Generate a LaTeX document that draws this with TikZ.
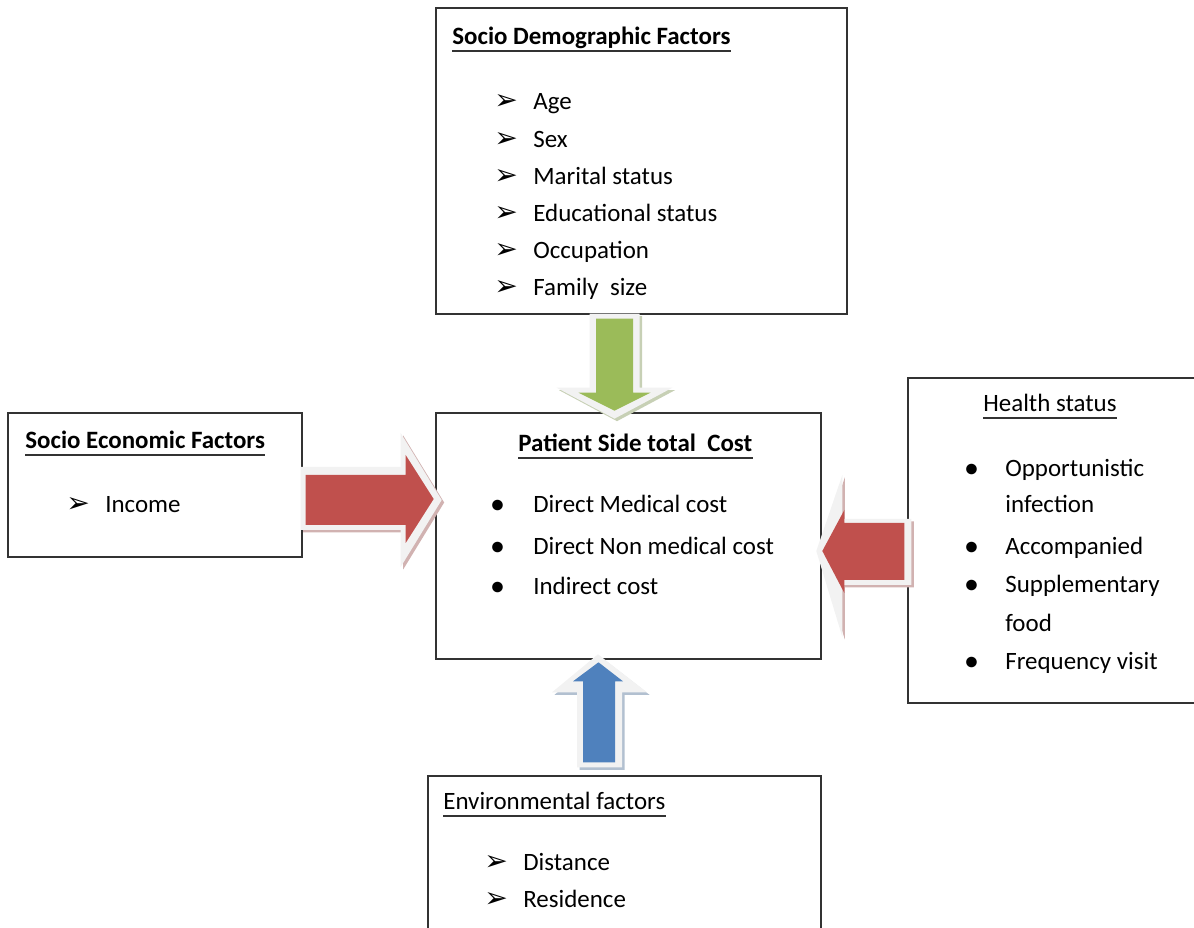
\documentclass[tikz,border=0pt]{standalone}
\usepackage{fontspec}
\setmainfont{Carlito}
\newfontfamily\dingfont{DejaVu Sans}
\usetikzlibrary{calc}

\definecolor{boxline}{HTML}{333333}
\definecolor{halocol}{HTML}{F2F2F2}
\definecolor{arrowred}{HTML}{C0504D}
\definecolor{arrowgreen}{HTML}{9BBB59}
\definecolor{arrowblue}{HTML}{4F81BD}

\begin{document}
\begin{tikzpicture}[x=0.02cm,y=-0.02cm,
  font=\fontsize{14.2}{17}\selectfont,
  box/.style={draw=boxline,line width=0.8pt,fill=white,inner sep=0},
  txt/.style={anchor=base west,inner sep=0},
  pointer/.style={anchor=base west,inner sep=0,font=\fontsize{16}{17}\dingfont\bfseries},
  rule/.style={draw=black!80,line width=1pt},
  halo/.style={fill=halocol,preaction={fill=#1!55!gray!50,
    transform canvas={xshift=0.05cm,yshift=-0.05cm}}}]
\useasboundingbox (0,0) rectangle (1194,928);

% boxes
\node[box,minimum width=8.22cm,minimum height=6.12cm] (demo) at (641.5,161) {};
\node[box,minimum width=5.88cm,minimum height=2.88cm] (econ) at (155,485) {};
\node[box,minimum width=7.70cm,minimum height=4.92cm] (cost) at (628.5,536) {};
\node[box,minimum width=5.84cm,minimum height=6.50cm] (health) at (1054,540.5) {};
\node[box,minimum width=7.86cm,minimum height=3.28cm] (env) at (624.5,858) {};

% block arrows into the cost box
\begin{scope}[shift={($(demo.south)+(-27,0)$)}]
  \fill[halo=arrowgreen] (-25,-1) -- (25,-1) -- (25,73) -- (58,73) -- (0,104) -- (-58,73) -- (-25,73) -- cycle;
  \fill[arrowgreen] (-18.5,4) -- (18.5,4) -- (18.5,78) -- (36,78) -- (0,96) -- (-36,78) -- (-18.5,78) -- cycle;
\end{scope}
\begin{scope}[shift={(econ.east)}]
  \fill[halo=arrowred] (-2,-18) -- (98,-18) -- (98,-52) -- (139,15) -- (98,82) -- (98,45) -- (-2,45) -- cycle;
  \fill[arrowred] (3,-10) -- (103,-10) -- (103,-30) -- (131,14) -- (103,58) -- (103,40) -- (3,40) -- cycle;
\end{scope}
\begin{scope}[shift={(health.west)}]
  \fill[halo=arrowred] (4,-21.5) -- (-65,-21.5) -- (-65,-65.5) -- (-91,10.5) -- (-65,96.5) -- (-65,44.5) -- (4,44.5) -- cycle;
  \fill[arrowred] (-3,-17.5) -- (-63,-17.5) -- (-63,-30.5) -- (-85,10.5) -- (-63,52.5) -- (-63,39.5) -- (-3,39.5) -- cycle;
\end{scope}
\begin{scope}[shift={(env.north)}]
  \fill[halo=arrowblue] (-47.5,-8) -- (-47.5,-83) -- (-72.5,-83) -- (-26.5,-121) -- (22.5,-83) -- (-2.5,-83) -- (-2.5,-8) -- cycle;
  \fill[arrowblue] (-41.5,-13) -- (-41.5,-94) -- (-51.5,-94) -- (-26,-113) -- (-1.5,-94) -- (-9.5,-94) -- (-9.5,-13) -- cycle;
\end{scope}

% socio demographic factors
\node[txt] (demo-title) at (452,45) {\bfseries Socio Demographic Factors};
\foreach \factor [count=\i] in {Age,Sex,Marital status,Educational status,Occupation,Family\ \ size} {
  \node[pointer] (demo-p\i) at (494,{110+37.2*(\i-1)}) {➢};
  \node[txt] (demo-\i) at (533,{110+37.2*(\i-1)}) {\factor};
}

% socio economic factors
\node[txt] (econ-title) at (25,449) {\bfseries Socio Economic Factors};
\node[pointer] (econ-p1) at (66,513) {➢};
\node[txt] (econ-1) at (105,513) {Income};

% patient side cost
\node[txt] (cost-title) at (518,452) {\bfseries Patient Side total\ \ Cost};
\foreach \y/\factor [count=\i] in {513/Direct Medical cost,555/Direct Non medical cost,595/Indirect cost} {
  \node[txt] (cost-b\i) at (491,\y) {\textbf{•}};
  \node[txt] (cost-\i) at (533,\y) {\factor};
}

% health status
\node[txt] (health-title) at (983,412) {Health status};
\foreach \y/\factor [count=\i] in {477/Opportunistic,513/infection,555/Accompanied,593/Supplementary,632/food,670/Frequency visit} {
  \node[txt] (health-\i) at (1005,\y) {\factor};
}
\foreach \y [count=\i] in {477,555,593,670} {
  \node[txt] (health-b\i) at (965,\y) {\textbf{•}};
}

% environmental factors
\node[txt] (env-title) at (443,810) {Environmental factors};
\node[pointer] (env-p1) at (484,870) {➢};
\node[txt] (env-1) at (523,870) {Distance};
\node[pointer] (env-p2) at (484,908) {➢};
\node[txt] (env-2) at (523,908) {Residence};

% title underlines
\foreach \t in {demo-title,econ-title,cost-title,health-title,env-title}
  \draw[rule] ($(\t.base west)+(0,6)$) -- ($(\t.base east)+(0,6)$);
\end{tikzpicture}
\end{document}
